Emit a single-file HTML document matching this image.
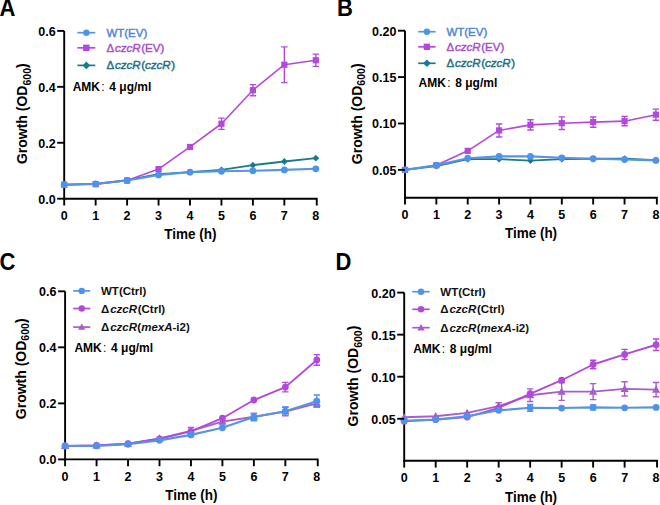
<!DOCTYPE html>
<html><head><meta charset="utf-8"><style>
html,body{margin:0;padding:0;background:#fff;width:660px;height:505px;overflow:hidden}
svg{display:block}
text{font-family:"Liberation Sans", sans-serif}
</style></head><body>
<svg width="660" height="505" viewBox="0 0 660 505">
<rect width="660" height="505" fill="#fff"/>
<path d="M64.20 30.90V205.50" stroke="#000" stroke-width="1.9" fill="none"/>
<path d="M63.25 198.70H316.75V205.50" stroke="#000" stroke-width="1.9" fill="none"/>
<path d="M95.65 198.70V205.50" stroke="#000" stroke-width="1.9"/>
<path d="M127.10 198.70V205.50" stroke="#000" stroke-width="1.9"/>
<path d="M158.55 198.70V205.50" stroke="#000" stroke-width="1.9"/>
<path d="M190.00 198.70V205.50" stroke="#000" stroke-width="1.9"/>
<path d="M221.45 198.70V205.50" stroke="#000" stroke-width="1.9"/>
<path d="M252.90 198.70V205.50" stroke="#000" stroke-width="1.9"/>
<path d="M284.35 198.70V205.50" stroke="#000" stroke-width="1.9"/>
<polyline points="64.20,184.72 95.65,183.88 127.10,180.24 158.55,174.09 190.00,172.13 221.45,169.89 252.90,165.14 284.35,161.50 315.80,158.15" fill="none" stroke="#1a7a8c" stroke-width="1.8" stroke-linejoin="round"/>
<path d="M64.20 181.32L67.60 184.72L64.20 188.12L60.80 184.72Z" fill="#1a7a8c"/>
<path d="M95.65 180.48L99.05 183.88L95.65 187.28L92.25 183.88Z" fill="#1a7a8c"/>
<path d="M127.10 176.84L130.50 180.24L127.10 183.64L123.70 180.24Z" fill="#1a7a8c"/>
<path d="M158.55 170.69L161.95 174.09L158.55 177.49L155.15 174.09Z" fill="#1a7a8c"/>
<path d="M190.00 168.73L193.40 172.13L190.00 175.53L186.60 172.13Z" fill="#1a7a8c"/>
<path d="M221.45 166.49L224.85 169.89L221.45 173.29L218.05 169.89Z" fill="#1a7a8c"/>
<path d="M252.90 161.74L256.30 165.14L252.90 168.54L249.50 165.14Z" fill="#1a7a8c"/>
<path d="M284.35 158.10L287.75 161.50L284.35 164.90L280.95 161.50Z" fill="#1a7a8c"/>
<path d="M315.80 154.75L319.20 158.15L315.80 161.55L312.40 158.15Z" fill="#1a7a8c"/>
<polyline points="64.20,184.72 95.65,184.16 127.10,180.52 158.55,169.06 190.00,146.96 221.45,123.75 252.90,90.19 284.35,64.74 315.80,60.26" fill="none" stroke="#b349dc" stroke-width="1.6" stroke-linejoin="round"/>
<path d="M221.45 118.16V129.34M218.25 118.16H224.65M218.25 129.34H224.65" stroke="#b349dc" stroke-width="1.4" fill="none"/>
<path d="M252.90 84.60V95.78M249.70 84.60H256.10M249.70 95.78H256.10" stroke="#b349dc" stroke-width="1.4" fill="none"/>
<path d="M284.35 46.84V82.64M281.15 46.84H287.55M281.15 82.64H287.55" stroke="#b349dc" stroke-width="1.4" fill="none"/>
<path d="M315.80 54.11V66.42M312.60 54.11H319.00M312.60 66.42H319.00" stroke="#b349dc" stroke-width="1.4" fill="none"/>
<rect x="61.10" y="181.62" width="6.20" height="6.20" fill="#b349dc"/>
<rect x="92.55" y="181.06" width="6.20" height="6.20" fill="#b349dc"/>
<rect x="124.00" y="177.42" width="6.20" height="6.20" fill="#b349dc"/>
<rect x="155.45" y="165.96" width="6.20" height="6.20" fill="#b349dc"/>
<rect x="186.90" y="143.86" width="6.20" height="6.20" fill="#b349dc"/>
<rect x="218.35" y="120.65" width="6.20" height="6.20" fill="#b349dc"/>
<rect x="249.80" y="87.09" width="6.20" height="6.20" fill="#b349dc"/>
<rect x="281.25" y="61.64" width="6.20" height="6.20" fill="#b349dc"/>
<rect x="312.70" y="57.16" width="6.20" height="6.20" fill="#b349dc"/>
<polyline points="64.20,184.72 95.65,183.88 127.10,180.52 158.55,174.93 190.00,172.13 221.45,171.29 252.90,170.73 284.35,169.89 315.80,168.78" fill="none" stroke="#5795e0" stroke-width="2.1" stroke-linejoin="round"/>
<circle cx="64.20" cy="184.72" r="3.4" fill="#4d93ee"/>
<circle cx="95.65" cy="183.88" r="3.4" fill="#4d93ee"/>
<circle cx="127.10" cy="180.52" r="3.4" fill="#4d93ee"/>
<circle cx="158.55" cy="174.93" r="3.4" fill="#4d93ee"/>
<circle cx="190.00" cy="172.13" r="3.4" fill="#4d93ee"/>
<circle cx="221.45" cy="171.29" r="3.4" fill="#4d93ee"/>
<circle cx="252.90" cy="170.73" r="3.4" fill="#4d93ee"/>
<circle cx="284.35" cy="169.89" r="3.4" fill="#4d93ee"/>
<circle cx="315.80" cy="168.78" r="3.4" fill="#4d93ee"/>
<path d="M57.20 198.70H64.20" stroke="#000" stroke-width="1.9"/>
<text x="55.60" y="203.60" font-size="12.5" text-anchor="end" font-weight="bold" fill="#000" >0.0</text>
<path d="M57.20 142.77H64.20" stroke="#000" stroke-width="1.9"/>
<text x="55.60" y="147.67" font-size="12.5" text-anchor="end" font-weight="bold" fill="#000" >0.2</text>
<path d="M57.20 86.83H64.20" stroke="#000" stroke-width="1.9"/>
<text x="55.60" y="91.73" font-size="12.5" text-anchor="end" font-weight="bold" fill="#000" >0.4</text>
<path d="M57.20 30.90H64.20" stroke="#000" stroke-width="1.9"/>
<text x="55.60" y="35.80" font-size="12.5" text-anchor="end" font-weight="bold" fill="#000" >0.6</text>
<text x="64.20" y="220.00" font-size="12.5" text-anchor="middle" font-weight="bold" fill="#000" >0</text>
<text x="95.65" y="220.00" font-size="12.5" text-anchor="middle" font-weight="bold" fill="#000" >1</text>
<text x="127.10" y="220.00" font-size="12.5" text-anchor="middle" font-weight="bold" fill="#000" >2</text>
<text x="158.55" y="220.00" font-size="12.5" text-anchor="middle" font-weight="bold" fill="#000" >3</text>
<text x="190.00" y="220.00" font-size="12.5" text-anchor="middle" font-weight="bold" fill="#000" >4</text>
<text x="221.45" y="220.00" font-size="12.5" text-anchor="middle" font-weight="bold" fill="#000" >5</text>
<text x="252.90" y="220.00" font-size="12.5" text-anchor="middle" font-weight="bold" fill="#000" >6</text>
<text x="284.35" y="220.00" font-size="12.5" text-anchor="middle" font-weight="bold" fill="#000" >7</text>
<text x="315.80" y="220.00" font-size="12.5" text-anchor="middle" font-weight="bold" fill="#000" >8</text>
<text transform="translate(190.40,239.10) scale(1,1.12)" font-size="13.5" text-anchor="middle" font-weight="bold" >Time (h)</text>
<text transform="translate(27.30,113.70) rotate(-90)" font-size="14" text-anchor="middle" font-weight="bold" >Growth (OD<tspan font-size="10.5" dy="3.2">600</tspan><tspan dy="-3.2">)</tspan></text>
<text transform="translate(-0.50,15.50) scale(1,1.08)" font-size="22" font-weight="bold">A</text>
<path d="M77.40 32.70H95.30" stroke="#5795e0" stroke-width="1.7"/>
<circle cx="86.35" cy="32.70" r="3.2" fill="#4d93ee"/>
<text x="106.40" y="36.70" font-size="11.5" text-anchor="start" font-weight="normal" fill="#4f86d6" stroke="#4f86d6" stroke-width="0.45">WT(EV)</text>
<path d="M77.40 47.80H95.30" stroke="#b349dc" stroke-width="1.7"/>
<rect x="83.15" y="44.60" width="6.40" height="6.40" fill="#b349dc"/>
<text x="106.40" y="51.80" font-size="11.5" text-anchor="start" font-weight="normal" fill="#a94fcc" stroke="#a94fcc" stroke-width="0.45">Δ<tspan font-style="italic" dx="0.9">czcR</tspan><tspan dx="0.7">(EV)</tspan></text>
<path d="M77.40 65.40H95.30" stroke="#1a7a8c" stroke-width="1.7"/>
<path d="M86.35 61.60L90.15 65.40L86.35 69.20L82.55 65.40Z" fill="#1a7a8c"/>
<text x="106.40" y="69.40" font-size="11.5" text-anchor="start" font-weight="normal" fill="#1d6f82" stroke="#1d6f82" stroke-width="0.45">Δ<tspan font-style="italic" dx="0.9">czcR</tspan><tspan dx="0.7">(</tspan><tspan font-style="italic">czcR</tspan><tspan dx="0.5">)</tspan></text>
<text x="72.70" y="90.50" font-size="12" text-anchor="start" font-weight="bold" fill="#000" >AMK<tspan font-weight="normal" dx="1.2">:</tspan><tspan dx="4.8">4 μg/ml</tspan></text>
<path d="M405.00 30.70V204.50" stroke="#000" stroke-width="1.9" fill="none"/>
<path d="M404.05 197.70H656.85V204.50" stroke="#000" stroke-width="1.9" fill="none"/>
<path d="M436.36 197.70V204.50" stroke="#000" stroke-width="1.9"/>
<path d="M467.73 197.70V204.50" stroke="#000" stroke-width="1.9"/>
<path d="M499.09 197.70V204.50" stroke="#000" stroke-width="1.9"/>
<path d="M530.45 197.70V204.50" stroke="#000" stroke-width="1.9"/>
<path d="M561.81 197.70V204.50" stroke="#000" stroke-width="1.9"/>
<path d="M593.17 197.70V204.50" stroke="#000" stroke-width="1.9"/>
<path d="M624.54 197.70V204.50" stroke="#000" stroke-width="1.9"/>
<polyline points="405.00,169.87 436.36,166.16 467.73,159.20 499.09,159.20 530.45,160.59 561.81,159.20 593.17,158.73 624.54,158.73 655.90,160.12" fill="none" stroke="#1a7a8c" stroke-width="1.8" stroke-linejoin="round"/>
<path d="M405.00 166.47L408.40 169.87L405.00 173.27L401.60 169.87Z" fill="#1a7a8c"/>
<path d="M436.36 162.76L439.76 166.16L436.36 169.56L432.96 166.16Z" fill="#1a7a8c"/>
<path d="M467.73 155.80L471.12 159.20L467.73 162.60L464.33 159.20Z" fill="#1a7a8c"/>
<path d="M499.09 155.80L502.49 159.20L499.09 162.60L495.69 159.20Z" fill="#1a7a8c"/>
<path d="M530.45 157.19L533.85 160.59L530.45 163.99L527.05 160.59Z" fill="#1a7a8c"/>
<path d="M561.81 155.80L565.21 159.20L561.81 162.60L558.41 159.20Z" fill="#1a7a8c"/>
<path d="M593.17 155.33L596.57 158.73L593.17 162.13L589.77 158.73Z" fill="#1a7a8c"/>
<path d="M624.54 155.33L627.94 158.73L624.54 162.13L621.14 158.73Z" fill="#1a7a8c"/>
<path d="M655.90 156.72L659.30 160.12L655.90 163.53L652.50 160.12Z" fill="#1a7a8c"/>
<polyline points="405.00,169.87 436.36,165.23 467.73,150.85 499.09,130.44 530.45,124.87 561.81,123.20 593.17,122.09 624.54,121.16 655.90,114.66" fill="none" stroke="#b349dc" stroke-width="1.6" stroke-linejoin="round"/>
<path d="M499.09 123.94V136.93M495.89 123.94H502.29M495.89 136.93H502.29" stroke="#b349dc" stroke-width="1.4" fill="none"/>
<path d="M530.45 119.77V129.97M527.25 119.77H533.65M527.25 129.97H533.65" stroke="#b349dc" stroke-width="1.4" fill="none"/>
<path d="M561.81 116.89V129.51M558.61 116.89H565.01M558.61 129.51H565.01" stroke="#b349dc" stroke-width="1.4" fill="none"/>
<path d="M593.17 116.98V127.19M589.97 116.98H596.38M589.97 127.19H596.38" stroke="#b349dc" stroke-width="1.4" fill="none"/>
<path d="M624.54 116.52V125.80M621.34 116.52H627.74M621.34 125.80H627.74" stroke="#b349dc" stroke-width="1.4" fill="none"/>
<path d="M655.90 109.10V120.23M652.70 109.10H659.10M652.70 120.23H659.10" stroke="#b349dc" stroke-width="1.4" fill="none"/>
<rect x="401.90" y="166.77" width="6.20" height="6.20" fill="#b349dc"/>
<rect x="433.26" y="162.13" width="6.20" height="6.20" fill="#b349dc"/>
<rect x="464.62" y="147.75" width="6.20" height="6.20" fill="#b349dc"/>
<rect x="495.99" y="127.34" width="6.20" height="6.20" fill="#b349dc"/>
<rect x="527.35" y="121.77" width="6.20" height="6.20" fill="#b349dc"/>
<rect x="558.71" y="120.10" width="6.20" height="6.20" fill="#b349dc"/>
<rect x="590.07" y="118.99" width="6.20" height="6.20" fill="#b349dc"/>
<rect x="621.44" y="118.06" width="6.20" height="6.20" fill="#b349dc"/>
<rect x="652.80" y="111.56" width="6.20" height="6.20" fill="#b349dc"/>
<polyline points="405.00,169.87 436.36,165.23 467.73,158.18 499.09,156.41 530.45,156.41 561.81,157.81 593.17,158.73 624.54,159.48 655.90,160.40" fill="none" stroke="#5795e0" stroke-width="2.1" stroke-linejoin="round"/>
<circle cx="405.00" cy="169.87" r="3.4" fill="#4d93ee"/>
<circle cx="436.36" cy="165.23" r="3.4" fill="#4d93ee"/>
<circle cx="467.73" cy="158.18" r="3.4" fill="#4d93ee"/>
<circle cx="499.09" cy="156.41" r="3.4" fill="#4d93ee"/>
<circle cx="530.45" cy="156.41" r="3.4" fill="#4d93ee"/>
<circle cx="561.81" cy="157.81" r="3.4" fill="#4d93ee"/>
<circle cx="593.17" cy="158.73" r="3.4" fill="#4d93ee"/>
<circle cx="624.54" cy="159.48" r="3.4" fill="#4d93ee"/>
<circle cx="655.90" cy="160.40" r="3.4" fill="#4d93ee"/>
<path d="M398.00 169.87H405.00" stroke="#000" stroke-width="1.9"/>
<text x="396.40" y="174.77" font-size="12.5" text-anchor="end" font-weight="bold" fill="#000" >0.05</text>
<path d="M398.00 123.48H405.00" stroke="#000" stroke-width="1.9"/>
<text x="396.40" y="128.38" font-size="12.5" text-anchor="end" font-weight="bold" fill="#000" >0.10</text>
<path d="M398.00 77.09H405.00" stroke="#000" stroke-width="1.9"/>
<text x="396.40" y="81.99" font-size="12.5" text-anchor="end" font-weight="bold" fill="#000" >0.15</text>
<path d="M398.00 30.70H405.00" stroke="#000" stroke-width="1.9"/>
<text x="396.40" y="35.60" font-size="12.5" text-anchor="end" font-weight="bold" fill="#000" >0.20</text>
<text x="405.00" y="219.00" font-size="12.5" text-anchor="middle" font-weight="bold" fill="#000" >0</text>
<text x="436.36" y="219.00" font-size="12.5" text-anchor="middle" font-weight="bold" fill="#000" >1</text>
<text x="467.73" y="219.00" font-size="12.5" text-anchor="middle" font-weight="bold" fill="#000" >2</text>
<text x="499.09" y="219.00" font-size="12.5" text-anchor="middle" font-weight="bold" fill="#000" >3</text>
<text x="530.45" y="219.00" font-size="12.5" text-anchor="middle" font-weight="bold" fill="#000" >4</text>
<text x="561.81" y="219.00" font-size="12.5" text-anchor="middle" font-weight="bold" fill="#000" >5</text>
<text x="593.17" y="219.00" font-size="12.5" text-anchor="middle" font-weight="bold" fill="#000" >6</text>
<text x="624.54" y="219.00" font-size="12.5" text-anchor="middle" font-weight="bold" fill="#000" >7</text>
<text x="655.90" y="219.00" font-size="12.5" text-anchor="middle" font-weight="bold" fill="#000" >8</text>
<text transform="translate(531.00,238.00) scale(1,1.12)" font-size="13.5" text-anchor="middle" font-weight="bold" >Time (h)</text>
<text transform="translate(362.20,113.80) rotate(-90)" font-size="14" text-anchor="middle" font-weight="bold" >Growth (OD<tspan font-size="10.5" dy="3.2">600</tspan><tspan dy="-3.2">)</tspan></text>
<text transform="translate(337.00,16.00) scale(1,1.08)" font-size="22" font-weight="bold">B</text>
<path d="M418.20 31.70H435.60" stroke="#5795e0" stroke-width="1.7"/>
<circle cx="426.90" cy="31.70" r="3.2" fill="#4d93ee"/>
<text x="446.40" y="35.70" font-size="11.5" text-anchor="start" font-weight="normal" fill="#4f86d6" stroke="#4f86d6" stroke-width="0.45">WT(EV)</text>
<path d="M418.20 46.80H435.60" stroke="#b349dc" stroke-width="1.7"/>
<rect x="423.70" y="43.60" width="6.40" height="6.40" fill="#b349dc"/>
<text x="446.40" y="50.80" font-size="11.5" text-anchor="start" font-weight="normal" fill="#a94fcc" stroke="#a94fcc" stroke-width="0.45">Δ<tspan font-style="italic" dx="0.9">czcR</tspan><tspan dx="0.7">(EV)</tspan></text>
<path d="M418.20 63.30H435.60" stroke="#1a7a8c" stroke-width="1.7"/>
<path d="M426.90 59.50L430.70 63.30L426.90 67.10L423.10 63.30Z" fill="#1a7a8c"/>
<text x="446.40" y="67.30" font-size="11.5" text-anchor="start" font-weight="normal" fill="#1d6f82" stroke="#1d6f82" stroke-width="0.45">Δ<tspan font-style="italic" dx="0.9">czcR</tspan><tspan dx="0.7">(</tspan><tspan font-style="italic">czcR</tspan><tspan dx="0.5">)</tspan></text>
<text x="418.60" y="87.20" font-size="12" text-anchor="start" font-weight="bold" fill="#000" >AMK<tspan font-weight="normal" dx="1.2">:</tspan><tspan dx="4.8">8 μg/ml</tspan></text>
<path d="M65.10 291.30V466.20" stroke="#000" stroke-width="1.9" fill="none"/>
<path d="M64.15 459.40H317.75V466.20" stroke="#000" stroke-width="1.9" fill="none"/>
<path d="M96.56 459.40V466.20" stroke="#000" stroke-width="1.9"/>
<path d="M128.03 459.40V466.20" stroke="#000" stroke-width="1.9"/>
<path d="M159.49 459.40V466.20" stroke="#000" stroke-width="1.9"/>
<path d="M190.95 459.40V466.20" stroke="#000" stroke-width="1.9"/>
<path d="M222.41 459.40V466.20" stroke="#000" stroke-width="1.9"/>
<path d="M253.88 459.40V466.20" stroke="#000" stroke-width="1.9"/>
<path d="M285.34 459.40V466.20" stroke="#000" stroke-width="1.9"/>
<polyline points="65.10,445.95 96.56,445.39 128.03,443.71 159.49,438.39 190.95,430.82 222.41,421.58 253.88,416.81 285.34,411.49 316.80,403.37" fill="none" stroke="#a95cca" stroke-width="1.9" stroke-linejoin="round"/>
<path d="M190.95 427.46V434.19M187.75 427.46H194.15M187.75 434.19H194.15" stroke="#a95cca" stroke-width="1.4" fill="none"/>
<path d="M253.88 413.45V420.18M250.68 413.45H257.07M250.68 420.18H257.07" stroke="#a95cca" stroke-width="1.4" fill="none"/>
<path d="M285.34 407.29V415.69M282.14 407.29H288.54M282.14 415.69H288.54" stroke="#a95cca" stroke-width="1.4" fill="none"/>
<path d="M316.80 400.00V406.73M313.60 400.00H320.00M313.60 406.73H320.00" stroke="#a95cca" stroke-width="1.4" fill="none"/>
<path d="M65.10 441.81L69.24 449.01L60.96 449.01Z" fill="#a95cca"/>
<path d="M96.56 441.25L100.70 448.45L92.42 448.45Z" fill="#a95cca"/>
<path d="M128.03 439.57L132.16 446.77L123.89 446.77Z" fill="#a95cca"/>
<path d="M159.49 434.25L163.63 441.45L155.35 441.45Z" fill="#a95cca"/>
<path d="M190.95 426.68L195.09 433.88L186.81 433.88Z" fill="#a95cca"/>
<path d="M222.41 417.44L226.55 424.64L218.27 424.64Z" fill="#a95cca"/>
<path d="M253.88 412.67L258.01 419.87L249.74 419.87Z" fill="#a95cca"/>
<path d="M285.34 407.35L289.48 414.55L281.20 414.55Z" fill="#a95cca"/>
<path d="M316.80 399.23L320.94 406.43L312.66 406.43Z" fill="#a95cca"/>
<polyline points="65.10,445.95 96.56,445.39 128.03,443.71 159.49,438.95 190.95,431.38 222.41,418.22 253.88,400.00 285.34,387.12 316.80,359.94" fill="none" stroke="#b349dc" stroke-width="1.9" stroke-linejoin="round"/>
<path d="M285.34 382.35V391.88M282.14 382.35H288.54M282.14 391.88H288.54" stroke="#b349dc" stroke-width="1.4" fill="none"/>
<path d="M316.80 354.62V365.26M313.60 354.62H320.00M313.60 365.26H320.00" stroke="#b349dc" stroke-width="1.4" fill="none"/>
<circle cx="65.10" cy="445.95" r="3.4" fill="#b349dc"/>
<circle cx="96.56" cy="445.39" r="3.4" fill="#b349dc"/>
<circle cx="128.03" cy="443.71" r="3.4" fill="#b349dc"/>
<circle cx="159.49" cy="438.95" r="3.4" fill="#b349dc"/>
<circle cx="190.95" cy="431.38" r="3.4" fill="#b349dc"/>
<circle cx="222.41" cy="418.22" r="3.4" fill="#b349dc"/>
<circle cx="253.88" cy="400.00" r="3.4" fill="#b349dc"/>
<circle cx="285.34" cy="387.12" r="3.4" fill="#b349dc"/>
<circle cx="316.80" cy="359.94" r="3.4" fill="#b349dc"/>
<polyline points="65.10,445.95 96.56,445.95 128.03,444.27 159.49,440.35 190.95,434.89 222.41,427.74 253.88,417.09 285.34,411.21 316.80,401.13" fill="none" stroke="#5795e0" stroke-width="2.1" stroke-linejoin="round"/>
<path d="M253.88 413.45V420.74M250.68 413.45H257.07M250.68 420.74H257.07" stroke="#4d93ee" stroke-width="1.4" fill="none"/>
<path d="M285.34 407.01V415.41M282.14 407.01H288.54M282.14 415.41H288.54" stroke="#4d93ee" stroke-width="1.4" fill="none"/>
<path d="M316.80 394.96V407.29M313.60 394.96H320.00M313.60 407.29H320.00" stroke="#4d93ee" stroke-width="1.4" fill="none"/>
<circle cx="65.10" cy="445.95" r="3.4" fill="#4d93ee"/>
<circle cx="96.56" cy="445.95" r="3.4" fill="#4d93ee"/>
<circle cx="128.03" cy="444.27" r="3.4" fill="#4d93ee"/>
<circle cx="159.49" cy="440.35" r="3.4" fill="#4d93ee"/>
<circle cx="190.95" cy="434.89" r="3.4" fill="#4d93ee"/>
<circle cx="222.41" cy="427.74" r="3.4" fill="#4d93ee"/>
<circle cx="253.88" cy="417.09" r="3.4" fill="#4d93ee"/>
<circle cx="285.34" cy="411.21" r="3.4" fill="#4d93ee"/>
<circle cx="316.80" cy="401.13" r="3.4" fill="#4d93ee"/>
<path d="M58.10 459.40H65.10" stroke="#000" stroke-width="1.9"/>
<text x="56.50" y="464.30" font-size="12.5" text-anchor="end" font-weight="bold" fill="#000" >0.0</text>
<path d="M58.10 403.37H65.10" stroke="#000" stroke-width="1.9"/>
<text x="56.50" y="408.27" font-size="12.5" text-anchor="end" font-weight="bold" fill="#000" >0.2</text>
<path d="M58.10 347.33H65.10" stroke="#000" stroke-width="1.9"/>
<text x="56.50" y="352.23" font-size="12.5" text-anchor="end" font-weight="bold" fill="#000" >0.4</text>
<path d="M58.10 291.30H65.10" stroke="#000" stroke-width="1.9"/>
<text x="56.50" y="296.20" font-size="12.5" text-anchor="end" font-weight="bold" fill="#000" >0.6</text>
<text x="65.10" y="480.70" font-size="12.5" text-anchor="middle" font-weight="bold" fill="#000" >0</text>
<text x="96.56" y="480.70" font-size="12.5" text-anchor="middle" font-weight="bold" fill="#000" >1</text>
<text x="128.03" y="480.70" font-size="12.5" text-anchor="middle" font-weight="bold" fill="#000" >2</text>
<text x="159.49" y="480.70" font-size="12.5" text-anchor="middle" font-weight="bold" fill="#000" >3</text>
<text x="190.95" y="480.70" font-size="12.5" text-anchor="middle" font-weight="bold" fill="#000" >4</text>
<text x="222.41" y="480.70" font-size="12.5" text-anchor="middle" font-weight="bold" fill="#000" >5</text>
<text x="253.88" y="480.70" font-size="12.5" text-anchor="middle" font-weight="bold" fill="#000" >6</text>
<text x="285.34" y="480.70" font-size="12.5" text-anchor="middle" font-weight="bold" fill="#000" >7</text>
<text x="316.80" y="480.70" font-size="12.5" text-anchor="middle" font-weight="bold" fill="#000" >8</text>
<text transform="translate(191.40,500.20) scale(1,1.12)" font-size="13.5" text-anchor="middle" font-weight="bold" >Time (h)</text>
<text transform="translate(26.20,368.80) rotate(-90)" font-size="14" text-anchor="middle" font-weight="bold" >Growth (OD<tspan font-size="10.5" dy="3.2">600</tspan><tspan dy="-3.2">)</tspan></text>
<text transform="translate(-0.50,270.00) scale(1,1.08)" font-size="22" font-weight="bold">C</text>
<path d="M73.20 290.90H90.30" stroke="#5795e0" stroke-width="1.7"/>
<circle cx="81.75" cy="290.90" r="3.2" fill="#4d93ee"/>
<text x="101.00" y="294.90" font-size="11.5" text-anchor="start" font-weight="bold" fill="#111" >WT(Ctrl)</text>
<path d="M73.20 308.50H90.30" stroke="#b349dc" stroke-width="1.7"/>
<circle cx="81.75" cy="308.50" r="3.2" fill="#b349dc"/>
<text x="101.00" y="312.50" font-size="11.5" text-anchor="start" font-weight="bold" fill="#111" >Δ<tspan font-style="italic" dx="0.9">czcR</tspan><tspan dx="0.7">(Ctrl)</tspan></text>
<path d="M73.20 327.10H90.30" stroke="#a95cca" stroke-width="1.7"/>
<path d="M81.75 323.42L85.43 329.82L78.07 329.82Z" fill="#a95cca"/>
<text x="101.00" y="331.10" font-size="11.5" text-anchor="start" font-weight="bold" fill="#111" >Δ<tspan font-style="italic" dx="0.9">czcR</tspan><tspan dx="0.3">(</tspan><tspan font-style="italic">mexA</tspan>-i2)</text>
<text x="74.40" y="352.30" font-size="12" text-anchor="start" font-weight="bold" fill="#000" >AMK<tspan font-weight="normal" dx="1.2">:</tspan><tspan dx="4.8">4 μg/ml</tspan></text>
<path d="M404.20 292.60V467.60" stroke="#000" stroke-width="1.9" fill="none"/>
<path d="M403.25 460.80H657.05V467.60" stroke="#000" stroke-width="1.9" fill="none"/>
<path d="M435.69 460.80V467.60" stroke="#000" stroke-width="1.9"/>
<path d="M467.18 460.80V467.60" stroke="#000" stroke-width="1.9"/>
<path d="M498.66 460.80V467.60" stroke="#000" stroke-width="1.9"/>
<path d="M530.15 460.80V467.60" stroke="#000" stroke-width="1.9"/>
<path d="M561.64 460.80V467.60" stroke="#000" stroke-width="1.9"/>
<path d="M593.12 460.80V467.60" stroke="#000" stroke-width="1.9"/>
<path d="M624.61 460.80V467.60" stroke="#000" stroke-width="1.9"/>
<polyline points="404.20,417.32 435.69,416.23 467.18,412.86 498.66,406.13 530.15,395.20 561.64,391.59 593.12,391.59 624.61,388.89 656.10,389.65" fill="none" stroke="#a95cca" stroke-width="1.9" stroke-linejoin="round"/>
<path d="M498.66 402.77V409.50M495.46 402.77H501.86M495.46 409.50H501.86" stroke="#a95cca" stroke-width="1.4" fill="none"/>
<path d="M530.15 388.89V401.51M526.95 388.89H533.35M526.95 401.51H533.35" stroke="#a95cca" stroke-width="1.4" fill="none"/>
<path d="M561.64 382.76V400.42M558.44 382.76H564.84M558.44 400.42H564.84" stroke="#a95cca" stroke-width="1.4" fill="none"/>
<path d="M593.12 383.60V399.58M589.92 383.60H596.33M589.92 399.58H596.33" stroke="#a95cca" stroke-width="1.4" fill="none"/>
<path d="M624.61 381.75V396.04M621.41 381.75H627.81M621.41 396.04H627.81" stroke="#a95cca" stroke-width="1.4" fill="none"/>
<path d="M656.10 382.50V396.80M652.90 382.50H659.30M652.90 396.80H659.30" stroke="#a95cca" stroke-width="1.4" fill="none"/>
<path d="M404.20 413.18L408.34 420.38L400.06 420.38Z" fill="#a95cca"/>
<path d="M435.69 412.09L439.83 419.29L431.55 419.29Z" fill="#a95cca"/>
<path d="M467.18 408.72L471.31 415.92L463.04 415.92Z" fill="#a95cca"/>
<path d="M498.66 402.00L502.80 409.19L494.52 409.19Z" fill="#a95cca"/>
<path d="M530.15 391.06L534.29 398.26L526.01 398.26Z" fill="#a95cca"/>
<path d="M561.64 387.45L565.78 394.65L557.50 394.65Z" fill="#a95cca"/>
<path d="M593.12 387.45L597.26 394.65L588.99 394.65Z" fill="#a95cca"/>
<path d="M624.61 384.75L628.75 391.95L620.47 391.95Z" fill="#a95cca"/>
<path d="M656.10 385.51L660.24 392.71L651.96 392.71Z" fill="#a95cca"/>
<polyline points="404.20,421.27 435.69,419.59 467.18,417.07 498.66,407.82 530.15,393.77 561.64,380.23 593.12,364.51 624.61,354.41 656.10,344.74" fill="none" stroke="#b349dc" stroke-width="1.9" stroke-linejoin="round"/>
<path d="M593.12 360.30V368.71M589.92 360.30H596.33M589.92 368.71H596.33" stroke="#b349dc" stroke-width="1.4" fill="none"/>
<path d="M624.61 349.37V359.46M621.41 349.37H627.81M621.41 359.46H627.81" stroke="#b349dc" stroke-width="1.4" fill="none"/>
<path d="M656.10 339.02V350.46M652.90 339.02H659.30M652.90 350.46H659.30" stroke="#b349dc" stroke-width="1.4" fill="none"/>
<circle cx="404.20" cy="421.27" r="3.4" fill="#b349dc"/>
<circle cx="435.69" cy="419.59" r="3.4" fill="#b349dc"/>
<circle cx="467.18" cy="417.07" r="3.4" fill="#b349dc"/>
<circle cx="498.66" cy="407.82" r="3.4" fill="#b349dc"/>
<circle cx="530.15" cy="393.77" r="3.4" fill="#b349dc"/>
<circle cx="561.64" cy="380.23" r="3.4" fill="#b349dc"/>
<circle cx="593.12" cy="364.51" r="3.4" fill="#b349dc"/>
<circle cx="624.61" cy="354.41" r="3.4" fill="#b349dc"/>
<circle cx="656.10" cy="344.74" r="3.4" fill="#b349dc"/>
<polyline points="404.20,420.68 435.69,419.59 467.18,416.23 498.66,410.34 530.15,407.82 561.64,408.07 593.12,407.40 624.61,407.82 656.10,407.40" fill="none" stroke="#5795e0" stroke-width="2.1" stroke-linejoin="round"/>
<path d="M530.15 404.45V411.18M526.95 404.45H533.35M526.95 411.18H533.35" stroke="#4d93ee" stroke-width="1.4" fill="none"/>
<path d="M593.12 404.87V409.92M589.92 404.87H596.33M589.92 409.92H596.33" stroke="#4d93ee" stroke-width="1.4" fill="none"/>
<circle cx="404.20" cy="420.68" r="3.4" fill="#4d93ee"/>
<circle cx="435.69" cy="419.59" r="3.4" fill="#4d93ee"/>
<circle cx="467.18" cy="416.23" r="3.4" fill="#4d93ee"/>
<circle cx="498.66" cy="410.34" r="3.4" fill="#4d93ee"/>
<circle cx="530.15" cy="407.82" r="3.4" fill="#4d93ee"/>
<circle cx="561.64" cy="408.07" r="3.4" fill="#4d93ee"/>
<circle cx="593.12" cy="407.40" r="3.4" fill="#4d93ee"/>
<circle cx="624.61" cy="407.82" r="3.4" fill="#4d93ee"/>
<circle cx="656.10" cy="407.40" r="3.4" fill="#4d93ee"/>
<path d="M397.20 418.75H404.20" stroke="#000" stroke-width="1.9"/>
<text x="395.60" y="423.65" font-size="12.5" text-anchor="end" font-weight="bold" fill="#000" >0.05</text>
<path d="M397.20 376.70H404.20" stroke="#000" stroke-width="1.9"/>
<text x="395.60" y="381.60" font-size="12.5" text-anchor="end" font-weight="bold" fill="#000" >0.10</text>
<path d="M397.20 334.65H404.20" stroke="#000" stroke-width="1.9"/>
<text x="395.60" y="339.55" font-size="12.5" text-anchor="end" font-weight="bold" fill="#000" >0.15</text>
<path d="M397.20 292.60H404.20" stroke="#000" stroke-width="1.9"/>
<text x="395.60" y="297.50" font-size="12.5" text-anchor="end" font-weight="bold" fill="#000" >0.20</text>
<text x="404.20" y="482.10" font-size="12.5" text-anchor="middle" font-weight="bold" fill="#000" >0</text>
<text x="435.69" y="482.10" font-size="12.5" text-anchor="middle" font-weight="bold" fill="#000" >1</text>
<text x="467.18" y="482.10" font-size="12.5" text-anchor="middle" font-weight="bold" fill="#000" >2</text>
<text x="498.66" y="482.10" font-size="12.5" text-anchor="middle" font-weight="bold" fill="#000" >3</text>
<text x="530.15" y="482.10" font-size="12.5" text-anchor="middle" font-weight="bold" fill="#000" >4</text>
<text x="561.64" y="482.10" font-size="12.5" text-anchor="middle" font-weight="bold" fill="#000" >5</text>
<text x="593.12" y="482.10" font-size="12.5" text-anchor="middle" font-weight="bold" fill="#000" >6</text>
<text x="624.61" y="482.10" font-size="12.5" text-anchor="middle" font-weight="bold" fill="#000" >7</text>
<text x="656.10" y="482.10" font-size="12.5" text-anchor="middle" font-weight="bold" fill="#000" >8</text>
<text transform="translate(531.00,501.70) scale(1,1.12)" font-size="13.5" text-anchor="middle" font-weight="bold" >Time (h)</text>
<text transform="translate(358.30,376.00) rotate(-90)" font-size="14" text-anchor="middle" font-weight="bold" >Growth (OD<tspan font-size="10.5" dy="3.2">600</tspan><tspan dy="-3.2">)</tspan></text>
<text transform="translate(335.50,270.00) scale(1,1.08)" font-size="22" font-weight="bold">D</text>
<path d="M412.30 291.70H429.70" stroke="#5795e0" stroke-width="1.7"/>
<circle cx="421.00" cy="291.70" r="3.2" fill="#4d93ee"/>
<text x="440.30" y="295.70" font-size="11.5" text-anchor="start" font-weight="bold" fill="#111" >WT(Ctrl)</text>
<path d="M412.30 309.30H429.70" stroke="#b349dc" stroke-width="1.7"/>
<circle cx="421.00" cy="309.30" r="3.2" fill="#b349dc"/>
<text x="440.30" y="313.30" font-size="11.5" text-anchor="start" font-weight="bold" fill="#111" >Δ<tspan font-style="italic" dx="0.9">czcR</tspan><tspan dx="0.7">(Ctrl)</tspan></text>
<path d="M412.30 327.70H429.70" stroke="#a95cca" stroke-width="1.7"/>
<path d="M421.00 324.02L424.68 330.42L417.32 330.42Z" fill="#a95cca"/>
<text x="440.30" y="331.70" font-size="11.5" text-anchor="start" font-weight="bold" fill="#111" >Δ<tspan font-style="italic" dx="0.9">czcR</tspan><tspan dx="0.3">(</tspan><tspan font-style="italic">mexA</tspan>-i2)</text>
<text x="413.20" y="353.00" font-size="12" text-anchor="start" font-weight="bold" fill="#000" >AMK<tspan font-weight="normal" dx="1.2">:</tspan><tspan dx="4.8">8 μg/ml</tspan></text>
</svg></body></html>
